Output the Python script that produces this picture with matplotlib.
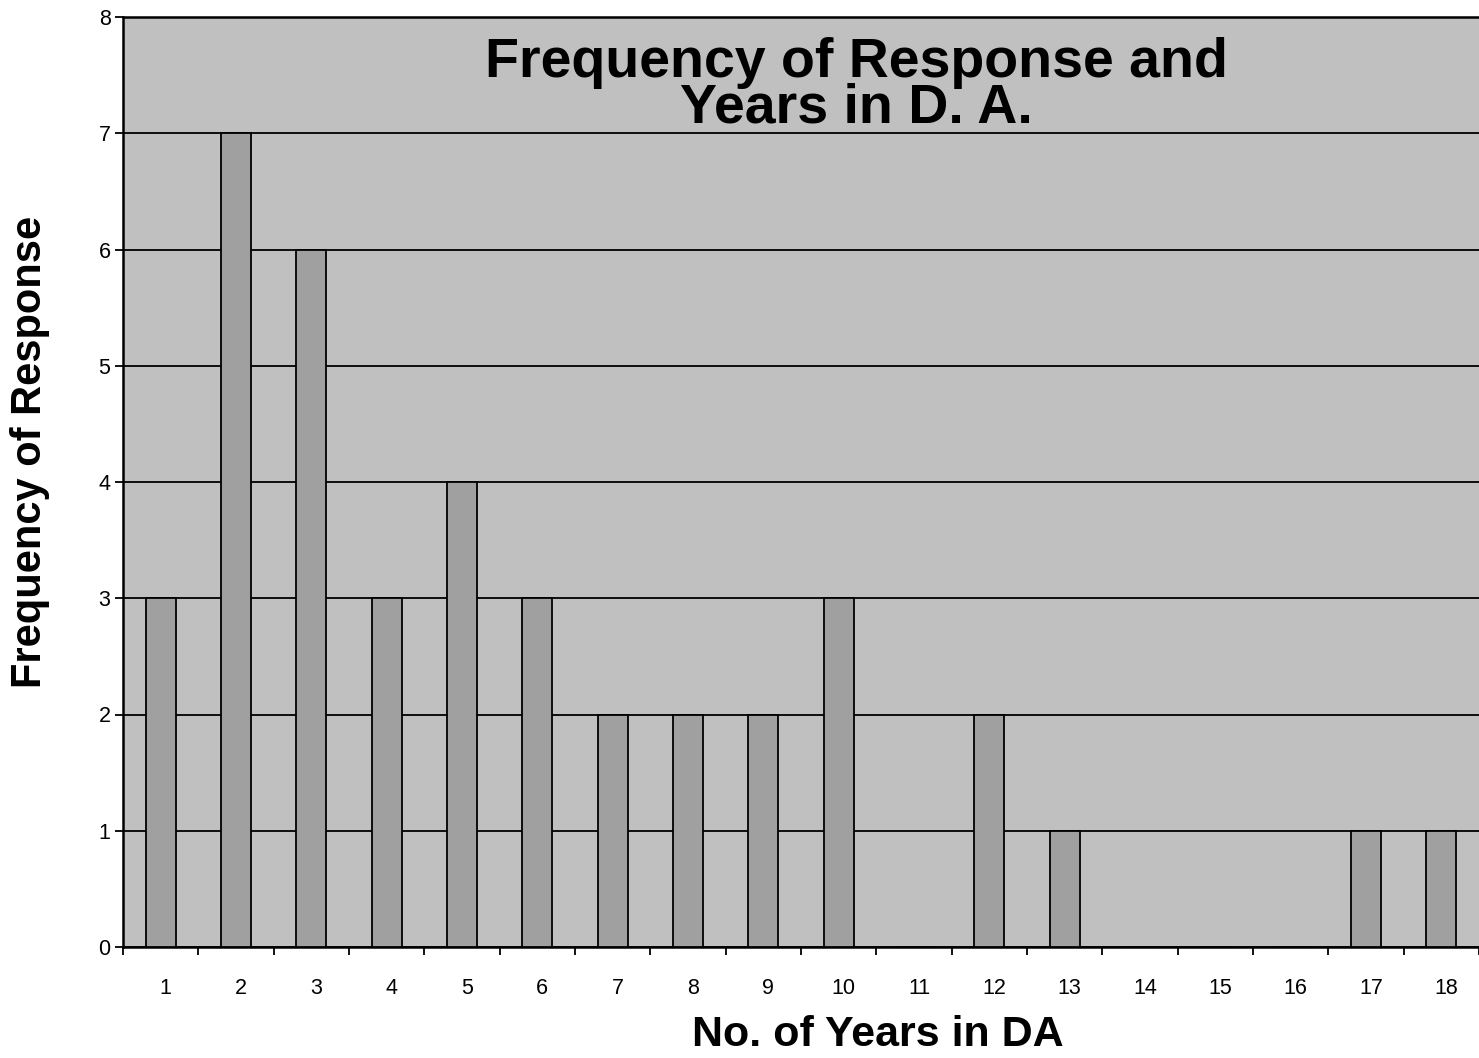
import matplotlib
matplotlib.use('Agg')
import matplotlib.pyplot as plt
import matplotlib.transforms as mtransforms
import numpy as np

plt.rcParams['font.family'] = ['Liberation Sans', 'DejaVu Sans']

years = ['1', '2', '3', '4', '5', '6', '7', '8', '9', '10', '11', '12',
         '13', '14', '15', '16', '17', '18']
counts = [3, 7, 6, 3, 4, 3, 2, 2, 2, 3, 0, 2, 1, 0, 0, 0, 1, 1]

W, H = 1479, 1058
fig = plt.figure(figsize=(W / 100, H / 100), dpi=100)
ax = fig.add_axes([123 / W, 1 - 947 / H, 1 - 123 / W, (947 - 17) / H])
ax.set_facecolor('#C0C0C0')

x = np.arange(len(years))
ax.bar(x, counts, width=0.4, color='#A0A0A0', edgecolor='black',
       linewidth=1.3, zorder=3)

ax.set_xlim(-0.5, len(years) - 0.5)
ax.set_ylim(0, 8)
ax.set_yticks(range(0, 9))
ax.yaxis.grid(True, color='black', linewidth=1.3, zorder=1)
ax.set_axisbelow(True)

# category labels centred, tick marks between categories
ax.set_xticks(x)
ax.set_xticklabels(years, fontsize=15.5)
ax.tick_params(axis='x', which='major', length=0, pad=22)
shift = mtransforms.ScaledTranslation(0.05, 0, fig.dpi_scale_trans)
for lbl in ax.get_xticklabels():
    lbl.set_transform(lbl.get_transform() + shift)
ax.set_xticks(np.arange(-0.5, len(years)), minor=True)
ax.tick_params(axis='x', which='minor', length=6, width=1.3, direction='out')
ax.tick_params(axis='y', length=6, width=1.3, labelsize=15.5, pad=3)

for side in ['left', 'top', 'bottom']:
    ax.spines[side].set_linewidth(1.8)
ax.spines['right'].set_visible(False)

fig.text(878 / W, 1 - 1035 / H, 'No. of Years in DA', fontsize=31,
         fontweight='bold', ha='center', va='center')
fig.text(30 / W, 1 - 452 / H, 'Frequency of Response', fontsize=30,
         fontweight='bold', ha='center', va='center', rotation=90)

ax.text(0.541, 0.978, 'Frequency of Response and\nYears in D. A.',
        transform=ax.transAxes, ha='center', va='top', fontsize=40,
        fontweight='bold', linespacing=0.83, zorder=5)

fig.savefig('out.png', dpi=100)
